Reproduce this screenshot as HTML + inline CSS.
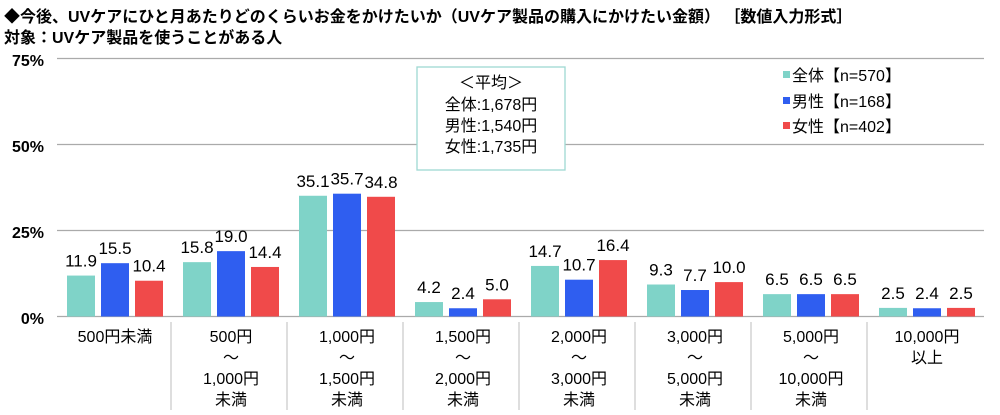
<!DOCTYPE html><html><head><meta charset="utf-8"><style>
body{margin:0;width:1000px;height:410px;background:#fff;overflow:hidden;font-family:"Liberation Sans","Noto Sans CJK JP",sans-serif}
</style></head><body>
<svg width="1000" height="410" xmlns="http://www.w3.org/2000/svg" font-family="Liberation Sans, Noto Sans CJK JP, sans-serif">
<text x="4" y="22" font-size="16" font-weight="bold" fill="#000">◆今後、UVケアにひと月あたりどのくらいお金をかけたいか（UVケア製品の購入にかけたい金額） ［数値入力形式］</text>
<text x="4" y="43" font-size="16" font-weight="bold" fill="#000">対象：UVケア製品を使うことがある人</text>
<g stroke="#aaa" stroke-width="1.3">
<line x1="57" y1="58.5" x2="984" y2="58.5"/><line x1="57" y1="144.5" x2="984" y2="144.5"/><line x1="57" y1="230.5" x2="984" y2="230.5"/><line x1="57" y1="316.5" x2="984" y2="316.5"/>
</g>
<g font-size="16" fill="#000" text-anchor="end" font-weight="bold">
<text x="44" y="66">75%</text><text x="44" y="152">50%</text><text x="44" y="238">25%</text><text x="44" y="324">0%</text></g>
<g stroke="#ccc" stroke-width="1.3">
<line x1="171" y1="322" x2="171" y2="410"/><line x1="287" y1="322" x2="287" y2="410"/><line x1="403" y1="322" x2="403" y2="410"/><line x1="519" y1="322" x2="519" y2="410"/><line x1="635" y1="322" x2="635" y2="410"/><line x1="751" y1="322" x2="751" y2="410"/><line x1="867" y1="322" x2="867" y2="410"/></g>
<g id="bars"></g>
<rect x="417" y="67" width="148" height="103" fill="#fff" stroke="#9fd8d2" stroke-width="1.3"/>
<g font-size="16" text-anchor="middle" fill="#000"><text x="491" y="88">＜平均＞</text><text x="491" y="110">全体:1,678円</text><text x="491" y="131">男性:1,540円</text><text x="491" y="152">女性:1,735円</text></g>
<rect x="783" y="71" width="7" height="7" fill="#7fd3c8"/><rect x="783" y="97" width="7" height="7" fill="#2f5ef0"/><rect x="783" y="122" width="7" height="7" fill="#f04a4a"/>
<g font-size="16" fill="#000"><text x="792" y="81">全体【n=570】</text><text x="792" y="107">男性【n=168】</text><text x="792" y="132">女性【n=402】</text></g>
</svg>
<script>
var d=[[11.9,15.5,10.4],[15.8,19.0,14.4],[35.1,35.7,34.8],[4.2,2.4,5.0],[14.7,10.7,16.4],[9.3,7.7,10.0],[6.5,6.5,6.5],[2.5,2.4,2.5]];
var labs=[["500円未満"],["500円","～","1,000円","未満"],["1,000円","～","1,500円","未満"],["1,500円","～","2,000円","未満"],["2,000円","～","3,000円","未満"],["3,000円","～","5,000円","未満"],["5,000円","～","10,000円","未満"],["10,000円","以上"]];
var c=["#7fd3c8","#2f5ef0","#f04a4a"],s="";
d.forEach(function(g,i){var x0=57+116*i+10;g.forEach(function(v,j){var h=v*3.44,x=x0+34*j;s+='<rect x="'+x+'" y="'+(316.5-h)+'" width="28" height="'+h+'" fill="'+c[j]+'"/>';s+='<text x="'+(x+14)+'" y="'+(316.5-h-9)+'" font-size="17" text-anchor="middle" fill="#000">'+v.toFixed(1)+'</text>';});
labs[i].forEach(function(t,k){s+='<text x="'+(57+116*i+58)+'" y="'+(342+21*k)+'" font-size="16" text-anchor="middle" fill="#000">'+t+'</text>';});});
document.getElementById("bars").innerHTML=s;
</script>
</body></html>
